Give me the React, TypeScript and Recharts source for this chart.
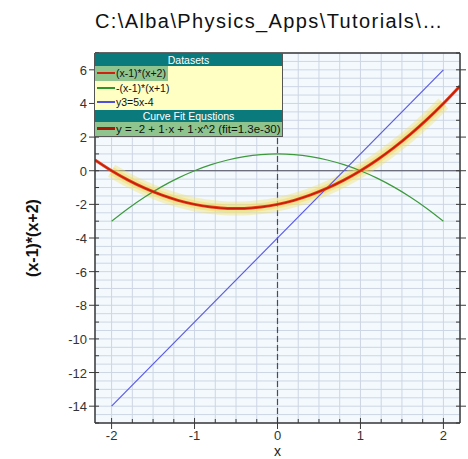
import { CartesianGrid, Line, LineChart, ReferenceLine, XAxis, YAxis } from 'recharts';

// (x-1)*(x+2), sampled across the whole window
const productX = [-2.2, -2, -1.8, -1.6, -1.4, -1.2, -1, -0.8, -0.6, -0.4, -0.2, 0, 0.2, 0.4, 0.6, 0.8, 1, 1.2, 1.4, 1.6, 1.8, 2, 2.2];
const productY = [0.64, 0, -0.56, -1.04, -1.44, -1.76, -2, -2.16, -2.24, -2.24, -2.16, -2, -1.76, -1.44, -1.04, -0.56, 0, 0.64, 1.36, 2.16, 3.04, 4, 5.04];

// -(x-1)*(x+1)
const invertedX = [-2, -1.8, -1.6, -1.4, -1.2, -1, -0.8, -0.6, -0.4, -0.2, 0, 0.2, 0.4, 0.6, 0.8, 1, 1.2, 1.4, 1.6, 1.8, 2];
const invertedY = [-3, -2.24, -1.56, -0.96, -0.44, 0, 0.36, 0.64, 0.84, 0.96, 1, 0.96, 0.84, 0.64, 0.36, 0, -0.44, -0.96, -1.56, -2.24, -3];

// y3 = 5x-4
const lineX = [-2, 2];
const lineY = [-14, 6];

// curve fit range
const fitX = [-2, -1.8, -1.6, -1.4, -1.2, -1, -0.8, -0.6, -0.4, -0.2, 0, 0.2, 0.4, 0.6, 0.8, 1, 1.2, 1.4, 1.6, 1.8, 2];
const fitY = [0, -0.56, -1.04, -1.44, -1.76, -2, -2.16, -2.24, -2.24, -2.16, -2, -1.76, -1.44, -1.04, -0.56, 0, 0.64, 1.36, 2.16, 3.04, 4];

const xMajor = [-2, -1, 0, 1, 2];
const yMajor = [-14, -12, -10, -8, -6, -4, -2, 0, 2, 4, 6];

const xGrid = Array.from({ length: 17 }, (_, i) => -2 + i * 0.25);
const yGrid = Array.from({ length: 45 }, (_, i) => -15 + i * 0.5);

const toData = (xs: number[], ys: number[]) => xs.map((x, i) => ({ x, y: ys[i] }));

const productData = toData(productX, productY);
const invertedData = toData(invertedX, invertedY);
const lineData = toData(lineX, lineY);
const fitData = toData(fitX, fitY);

const font = '"Liberation Sans", Arial, sans-serif';
const axisColor = '#3a3a3a';

const BottomTick = (props: any) => {
  const { x, y, payload } = props;
  const major = xMajor.includes(payload.value);
  return (
    <g>
      {major ? (
        <line x1={x} x2={x} y1={y - 5} y2={y + 6} stroke={axisColor} />
      ) : (
        <line x1={x} x2={x} y1={y} y2={y - 4} stroke={axisColor} />
      )}
      {major && (
        <text x={x} y={y + 17} textAnchor="middle" fontSize={13} fill="#333" fontFamily={font}>
          {payload.value}
        </text>
      )}
    </g>
  );
};

const TopTick = (props: any) => {
  const { x, y, payload } = props;
  const major = xMajor.includes(payload.value);
  return major ? (
    <line x1={x} x2={x} y1={y - 6} y2={y + 4} stroke={axisColor} />
  ) : (
    <line x1={x} x2={x} y1={y} y2={y + 4} stroke={axisColor} />
  );
};

const LeftTick = (props: any) => {
  const { x, y, payload } = props;
  const v = payload.value;
  if (yMajor.includes(v)) {
    return (
      <g>
        <line x1={x - 6} x2={x + 4} y1={y} y2={y} stroke={axisColor} />
        <text x={x - 8} y={y + 5} textAnchor="end" fontSize={13} fill="#333" fontFamily={font}>
          {v}
        </text>
      </g>
    );
  }
  if (Number.isInteger(v)) return <line x1={x} x2={x + 4} y1={y} y2={y} stroke={axisColor} />;
  return <g />;
};

const RightTick = (props: any) => {
  const { x, y, payload } = props;
  const v = payload.value;
  if (yMajor.includes(v)) return <line x1={x - 4} x2={x + 6} y1={y} y2={y} stroke={axisColor} />;
  if (Number.isInteger(v)) return <line x1={x - 4} x2={x} y1={y} y2={y} stroke={axisColor} />;
  return <g />;
};

const legendRow = { height: 14.5, display: 'flex', alignItems: 'center', whiteSpace: 'nowrap' as const };
const header = {
  height: 12,
  background: '#0b7a7c',
  color: '#fff',
  fontSize: 10.5,
  lineHeight: '12px',
  textAlign: 'center' as const,
};

const Swatch = ({ color, width = 2 }: { color: string; width?: number }) => (
  <span style={{ display: 'inline-block', flex: 'none', width: 18, height: width, background: color, marginLeft: 2, marginRight: 1 }} />
);

export default function App() {
  return (
    <div style={{ position: 'absolute', left: 0, top: 0, width: 468, height: 459, overflow: 'hidden', background: '#fff', fontFamily: font }}>
      <div style={{ position: 'absolute', left: 95, top: 10, fontSize: 20, letterSpacing: 1.4, color: '#111', whiteSpace: 'nowrap' }}>
        C:\Alba\Physics_Apps\Tutorials\…
      </div>
      <LineChart width={468} height={459} margin={{ top: 45, right: 0, bottom: 0, left: 0 }}>
        <CartesianGrid fill="#f3f9fd" stroke="#cdd6e4" />
        <XAxis
          dataKey="x"
          type="number"
          domain={[-2.2, 2.2]}
          allowDataOverflow
          ticks={xGrid}
          interval={0}
          tick={<BottomTick />}
          tickSize={0}
          tickMargin={0}
          tickLine={false}
          height={36}
          axisLine={{ stroke: axisColor, strokeWidth: 1.5 }}
          label={{
            content: (p: any) => (
              <text x={p.viewBox.x + p.viewBox.width / 2} y={p.viewBox.y + 33} textAnchor="middle" fontSize={14} fill="#222" fontFamily={font}>
                x
              </text>
            ),
          }}
        />
        <XAxis
          xAxisId="top"
          orientation="top"
          type="number"
          domain={[-2.2, 2.2]}
          allowDataOverflow
          ticks={xGrid}
          interval={0}
          tick={<TopTick />}
          tickSize={0}
          tickMargin={0}
          tickLine={false}
          height={8}
          axisLine={{ stroke: axisColor, strokeWidth: 1.5 }}
        />
        <YAxis
          type="number"
          domain={[-15, 7]}
          allowDataOverflow
          ticks={yGrid}
          interval={0}
          tick={<LeftTick />}
          tickSize={0}
          tickMargin={0}
          tickLine={false}
          width={95}
          axisLine={{ stroke: axisColor, strokeWidth: 1.5 }}
          label={{
            content: (p: any) => {
              const cx = 32;
              const cy = p.viewBox.y + p.viewBox.height / 2;
              return (
                <text x={cx} y={cy} transform={`rotate(-90 ${cx} ${cy})`} textAnchor="middle" dominantBaseline="central" fontSize={16} fontWeight="bold" fill="#111" fontFamily={font}>
                  (x-1)*(x+2)
                </text>
              );
            },
          }}
        />
        <YAxis
          yAxisId="right"
          orientation="right"
          type="number"
          domain={[-15, 7]}
          allowDataOverflow
          ticks={yGrid}
          interval={0}
          tick={<RightTick />}
          tickSize={0}
          tickMargin={0}
          tickLine={false}
          width={8}
          axisLine={{ stroke: axisColor, strokeWidth: 1.5 }}
        />
        <ReferenceLine y={0} stroke="#4a4a5a" strokeWidth={1.2} />
        <ReferenceLine x={0} stroke="#4a4a5a" strokeWidth={1.2} strokeDasharray="6 3" />
        <Line data={fitData} dataKey="y" type="monotone" stroke="#f2e26e" strokeOpacity={0.4} strokeWidth={14} dot={false} isAnimationActive={false} />
        <Line data={fitData} dataKey="y" type="monotone" stroke="#f2dc60" strokeOpacity={0.5} strokeWidth={8} dot={false} isAnimationActive={false} />
        <Line data={invertedData} dataKey="y" type="monotone" stroke="#3c9a3c" strokeWidth={1.2} dot={false} isAnimationActive={false} />
        <Line data={lineData} dataKey="y" type="linear" stroke="#5a5ae6" strokeWidth={1.2} dot={false} isAnimationActive={false} />
        <Line data={productData} dataKey="y" type="monotone" stroke="#e0401a" strokeWidth={3} dot={false} isAnimationActive={false} />
        <Line data={productData} dataKey="y" type="monotone" stroke="#c81a0c" strokeWidth={1.3} dot={false} isAnimationActive={false} />
      </LineChart>
      <div
        style={{
          position: 'absolute',
          left: 94,
          top: 53,
          width: 189,
          border: '1px solid #555',
          boxSizing: 'border-box',
          fontSize: 10.5,
          color: '#111',
          overflow: 'hidden',
        }}
      >
        <div style={header}>Datasets</div>
        <div style={{ background: '#ffffc4' }}>
          <div style={legendRow}>
            <span style={{ background: '#8fc48f', display: 'flex', alignItems: 'center', height: '100%', paddingRight: 2 }}>
              <Swatch color="#d02010" />
              (x-1)*(x+2)
            </span>
          </div>
          <div style={legendRow}>
            <Swatch color="#2f962f" />
            -(x-1)*(x+1)
          </div>
          <div style={legendRow}>
            <Swatch color="#5050e0" />
            y3=5x-4
          </div>
        </div>
        <div style={header}>Curve Fit Equstions</div>
        <div style={{ ...legendRow, background: '#8fc48f', height: 14, fontSize: 11.5 }}>
          <Swatch color="#a81808" width={3} />
          y = -2 + 1·x + 1·x^2 (fit=1.3e-30)
        </div>
      </div>
    </div>
  );
}
